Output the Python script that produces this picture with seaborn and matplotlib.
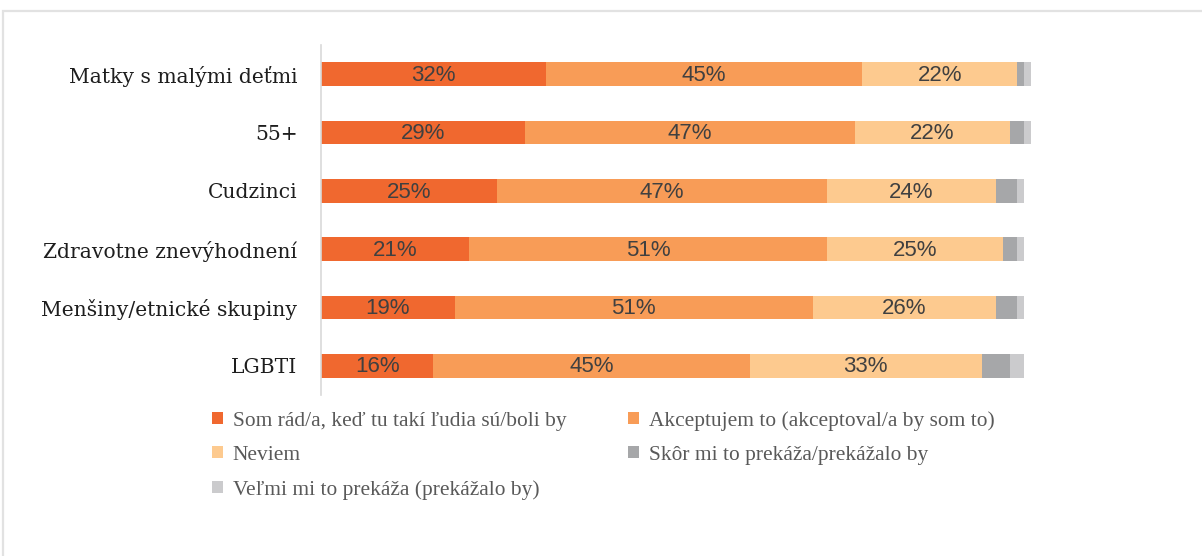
import matplotlib
matplotlib.use("Agg")
import matplotlib.pyplot as plt
from matplotlib.patches import Patch, Rectangle
import numpy as np
import pandas as pd
import seaborn as sns

# Groups and answer shares (percent)
categories = [
    "Matky s malými deťmi",
    "55+",
    "Cudzinci",
    "Zdravotne znevýhodnení",
    "Menšiny/etnické skupiny",
    "LGBTI",
]
series_names = [
    "Som rád/a, keď tu takí ľudia sú/boli by",
    "Akceptujem to (akceptoval/a by som to)",
    "Neviem",
    "Skôr mi to prekáža/prekážalo by",
    "Veľmi mi to prekáža (prekážalo by)",
]
glad = [32, 29, 25, 21, 19, 16]
accept = [45, 47, 47, 51, 51, 45]
dont_know = [22, 22, 24, 25, 26, 33]
rather_bothers = [1, 2, 3, 2, 3, 4]
strongly_bothers = [1, 1, 1, 1, 1, 2]

colors = ["#F0682F", "#F89C57", "#FDCA8F", "#A6A7A9", "#CBCBCD"]

series = [glad, accept, dont_know, rather_bothers, strongly_bothers]
values = np.array(series, dtype=float)
cum = np.cumsum(values, axis=0)

sns.set_theme(style="white")

fig = plt.figure(figsize=(12.02, 5.56), dpi=100)

# light frame around the chart area
fig.patches.append(Rectangle((3 / 1202, -0.1), 1.2, 1 - 11 / 556 + 0.1,
                             transform=fig.transFigure, fill=False,
                             edgecolor="#E2E2E2", linewidth=1.6, zorder=0))

ax = fig.add_axes([321 / 1202, 1 - 395 / 556, 105 * 7.03 / 1202, 350 / 556])

# stacked bars: draw cumulative totals from the outermost layer inwards
for i in range(len(series) - 1, -1, -1):
    df = pd.DataFrame({"group": categories, "value": cum[i]})
    sns.barplot(data=df, x="value", y="group", orient="h", color=colors[i],
                saturation=1, width=0.41, ax=ax, linewidth=0, order=categories)

# percentage labels inside the first three segments
for i in range(3):
    for j, cat in enumerate(categories):
        left = cum[i][j] - values[i][j]
        ax.text(left + values[i][j] / 2, j + 0.02, f"{int(values[i][j])}%",
                ha="center", va="center", fontsize=16, color="#404040",
                family=["Liberation Sans", "DejaVu Sans"])

ax.set_xlim(0, 105)
ax.set_ylim(5.5, -0.5)
ax.set_xlabel("")
ax.set_ylabel("")
ax.set_xticks([])
for side in ["top", "right", "bottom"]:
    ax.spines[side].set_visible(False)
ax.spines["left"].set_color("#D9D9D9")
ax.spines["left"].set_linewidth(1.2)
ax.tick_params(axis="y", length=0, pad=17)
for lbl in ax.get_yticklabels():
    lbl.set_family(["DejaVu Serif"])
    lbl.set_fontsize(14.6)
    lbl.set_color("#1E1E1E")

# legend: first column holds series 1, 3, 5; second column 2, 4
order = [0, 2, 4, 1, 3]
handles = [Patch(facecolor=colors[k], edgecolor="none") for k in order]
labels = [series_names[k] for k in order]
fig.legend(handles, labels, loc="upper left",
           bbox_to_anchor=(193 / 1202, 1 - 392 / 556), ncol=2, frameon=False,
           prop={"family": "Liberation Serif", "size": 15.4},
           labelcolor="#595959", handlelength=0.5, handleheight=0.5,
           handletextpad=0.45, columnspacing=2.9, labelspacing=0.7)

fig.savefig("out.png", dpi=100)
